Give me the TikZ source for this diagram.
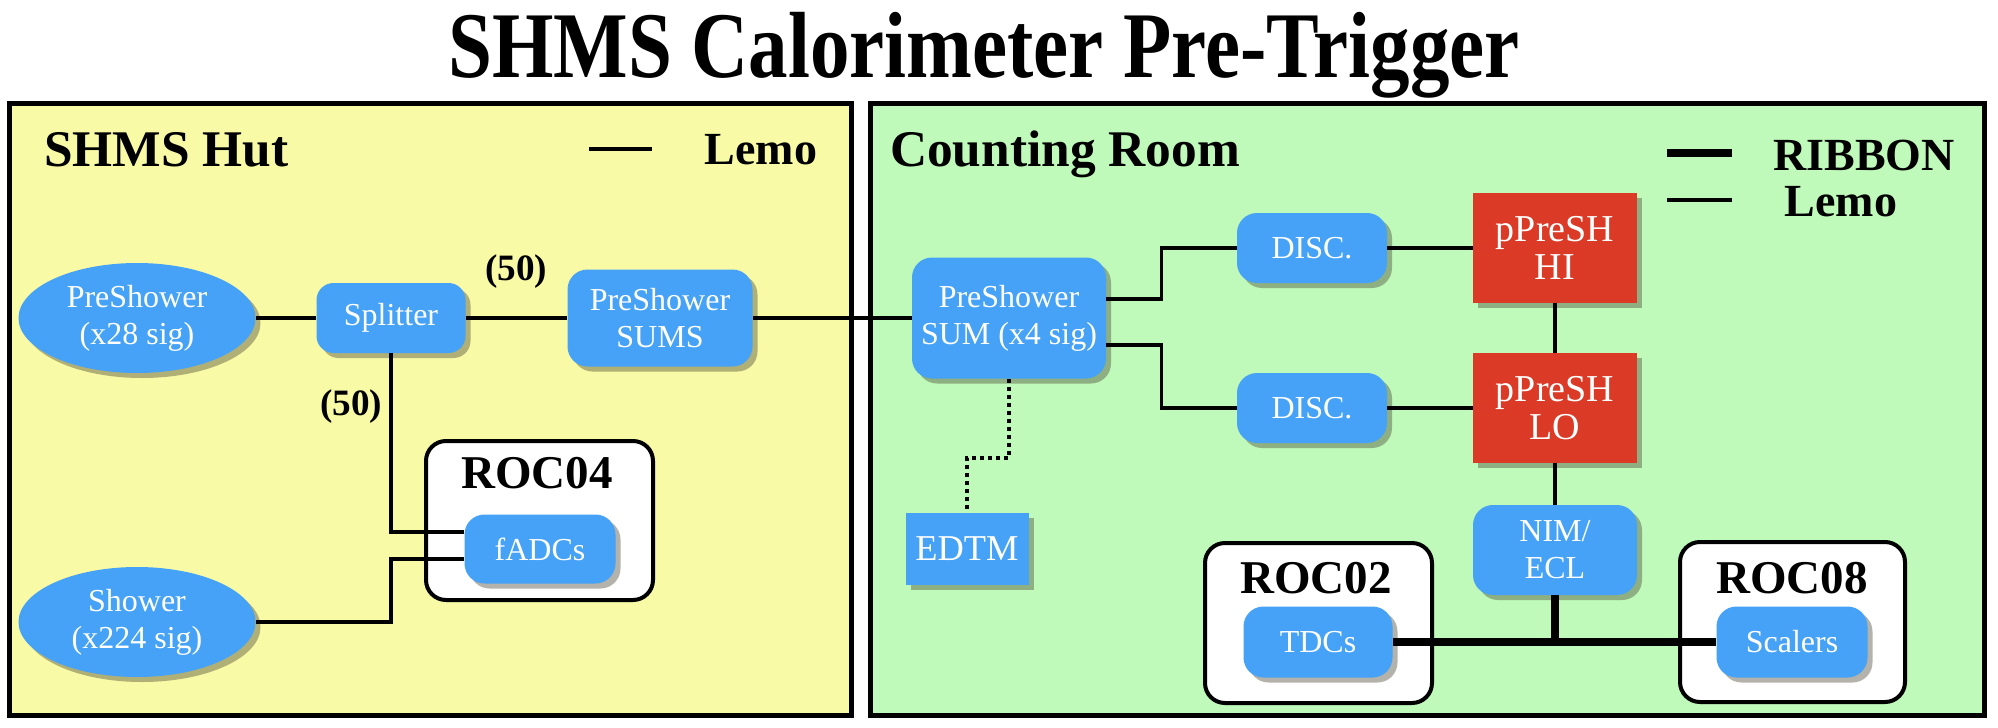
\documentclass[tikz,border=0pt]{standalone}
\usepackage{fontspec}
\setmainfont{Liberation Serif}
\usepackage{tikz}
\usetikzlibrary{positioning,shapes.geometric,shadows,calc}

\definecolor{hutyellow}{RGB}{249,250,166}
\definecolor{roomgreen}{RGB}{191,250,186}
\definecolor{modblue}{RGB}{70,162,246}
\definecolor{trigred}{RGB}{218,58,38}

\begin{document}
\begin{tikzpicture}[x=0.5pt,y=-0.5pt,
  panel/.style={draw=black,line width=2.5pt},
  shade/.style={drop shadow={shadow xshift=2.5pt,shadow yshift=-2.5pt,opacity=0.4,fill=black!70!olive}},
  module/.style={shade,fill=modblue,text=white,rounded corners=10pt,align=center,inner sep=0pt,
    font=\fontsize{16}{18.5}\selectfont},
  detector/.style={module,ellipse,rounded corners=0pt,minimum width=118.5pt,minimum height=55pt},
  trigbox/.style={module,fill=trigred,rounded corners=0pt,minimum width=82pt,minimum height=55pt,
    font=\fontsize{19}{19}\selectfont},
  rocbox/.style={draw=black,fill=white,line width=2pt,rounded corners=10pt,inner sep=0pt},
  roclbl/.style={font=\bfseries\fontsize{23.5}{23.5}\selectfont},
  hdr/.style={font=\bfseries\fontsize{25.7}{25.7}\selectfont},
  legend/.style={font=\bfseries\fontsize{23}{23}\selectfont},
  count/.style={font=\bfseries\fontsize{18.6}{18.6}\selectfont},
  lemo/.style={line width=1.8pt},
  ribbon/.style={line width=3.9pt},
  dotline/.style={line width=2pt,dash pattern=on 2pt off 2pt}
]
\useasboundingbox (0,0) rectangle (1998,728);

% Title
\node[anchor=base,xscale=0.84,font=\bfseries\fontsize{47}{47}\selectfont] (title) at (984,77)
  {SHMS Calorimeter Pre-Trigger};

% Panels
\draw[panel,fill=hutyellow] (9,103) rectangle (851,715);
\draw[panel,fill=roomgreen] (870,103) rectangle (1984,715);
\node[hdr,anchor=base west] (hutlbl) at (37,166) {SHMS Hut};
\node[hdr,anchor=base west] (roomlbl) at (883,166) {Counting Room};

% Legends
\coordinate (hutlemoA) at (589,149);
\coordinate (hutlemoB) at (652,149);
\draw[lemo] (hutlemoA) -- (hutlemoB);
\node[legend,anchor=base] (hutlemo) at (761,164) {Lemo};
\coordinate (ribA) at (1667,153);
\coordinate (ribB) at (1732,153);
\draw[ribbon] (ribA) -- (ribB);
\node[legend,anchor=base] (riblbl) at (1864,170) {RIBBON};
\coordinate (roomlemoA) at (1667,200);
\coordinate (roomlemoB) at (1732,200);
\draw[lemo] (roomlemoA) -- (roomlemoB);
\node[legend,anchor=base] (roomlemo) at (1841,216) {Lemo};

% ROC crates
\node[rocbox,minimum width=113.5pt,minimum height=79.5pt] (roc04) at (539.5,520.5) {};
\node[roclbl] (roc04lbl) at (537,473) {ROC04};
\node[rocbox,minimum width=113.5pt,minimum height=80pt] (roc02) at (1318.5,623) {};
\node[roclbl] (roc02lbl) at (1316,578) {ROC02};
\node[rocbox,minimum width=112.5pt,minimum height=80pt] (roc08) at (1792.5,622) {};
\node[roclbl] (roc08lbl) at (1792,578) {ROC08};

% SHMS Hut modules
\node[detector] (preshower) at (137,318) {PreShower\\(x28 sig)};
\node[detector] (shower) at (137,622) {Shower\\(x224 sig)};
\node[module,rounded corners=8.5pt,minimum width=74.5pt,minimum height=35pt] (splitter) at (391,318) {Splitter};
\node[module,minimum width=92.5pt,minimum height=48.5pt] (sums) at (660,318) {PreShower\\SUMS};
\node[module,minimum width=75.5pt,minimum height=34.5pt] (fadc) at (540,549) {fADCs};
\node[count] (cnt1) at (516,272) {(50)};
\node[count] (cnt2) at (351,407) {(50)};

% Counting Room modules
\node[module,minimum width=97pt,minimum height=60.5pt] (presum) at (1009,318) {PreShower\\SUM (x4 sig)};
\node[module,minimum width=75pt,minimum height=35pt] (disc1) at (1312,248) {DISC.};
\node[module,minimum width=75pt,minimum height=35pt] (disc2) at (1312,408) {DISC.};
\node[trigbox] (hi) at (1555,248) {pPreSH\\HI};
\node[trigbox] (lo) at (1555,408) {pPreSH\\LO};
\node[module,minimum width=82pt,minimum height=45pt] (nim) at (1555,550) {NIM/\\ECL};
\node[module,rounded corners=0pt,minimum width=61.5pt,minimum height=36pt,
  font=\fontsize{18.2}{18.2}\selectfont] (edtm) at (967,549) {EDTM};
\node[module,minimum width=74.5pt,minimum height=35.5pt] (tdc) at (1318,642) {TDCs};
\node[module,minimum width=75.5pt,minimum height=35.5pt] (scaler) at (1792,642) {Scalers};

% Lemo cables
\draw[lemo] (preshower) -- (splitter);
\draw[lemo] (splitter) -- (sums);
\draw[lemo] (sums) -- (presum);
\draw[lemo] (splitter.south) |- ([yshift=8.5pt]fadc.west);
\coordinate (showerjog) at ($(splitter.south |- fadc.west)+(0,-5pt)$);
\draw[lemo] (shower.east) -| (showerjog) -- ([yshift=-5pt]fadc.west);
\draw[lemo] ([yshift=9.5pt]presum.east) -| ($(disc1.west)+(-37.5pt,0)$) -- (disc1.west);
\draw[lemo] ([yshift=-13.5pt]presum.east) -| ($(disc2.west)+(-37.5pt,0)$) -- (disc2.west);
\draw[lemo] (disc1) -- (hi);
\draw[lemo] (disc2) -- (lo);
\draw[lemo] (hi) -- (lo);
\draw[lemo] (lo) -- (nim);

% EDTM link
\coordinate (edtmjog) at (1009,458);
\draw[dotline] (presum.south) -- (edtmjog) -| (edtm.north);

% Ribbon cables
\draw[ribbon] (tdc.east) -- (scaler.west);
\draw[ribbon] (nim.south) -- (nim.south |- tdc.east);

\end{tikzpicture}
\end{document}
